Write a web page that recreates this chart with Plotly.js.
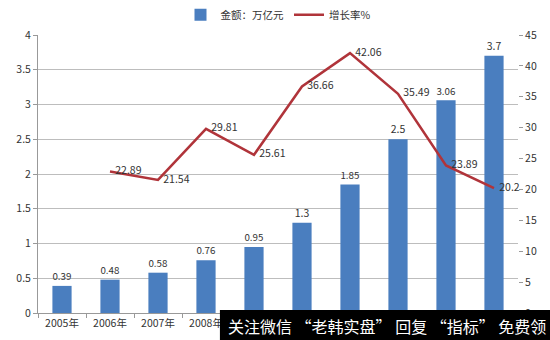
<!DOCTYPE html>
<html><head><meta charset="utf-8">
<script src="https://cdn.plot.ly/plotly-3.0.1.min.js"></script>
<style>html,body{margin:0;padding:0;background:#fff}#c{width:550px;height:340px}</style>
</head><body><div id="c"></div>
<script>
const categories = ["2005年","2006年","2007年","2008年","2009年","2010年","2011年","2012年","2013年","2014年"];
const amount = [0.39,0.48,0.58,0.76,0.95,1.3,1.85,2.5,3.06,3.7];
const growthCats = ["2006年","2007年","2008年","2009年","2010年","2011年","2012年","2013年","2014年"];
const growth = [22.89,21.54,29.81,25.61,36.66,42.06,35.49,23.89,20.2];
const amountName = "金额：万亿元";
const growthName = "增长率%";
const watermark = "关注微信 “老韩实盘” 回复 “指标” 免费领";

const font = "Noto Sans CJK SC, Noto Sans, sans-serif";
const traces = [
  {type:'bar', x:categories, y:amount, name:amountName, marker:{color:'#4A7EBF'},
   text:amount.map(String), textposition:'outside', cliponaxis:false,
   textfont:{size:10.5,color:'#333'}, hoverinfo:'skip'},
  {type:'scatter', mode:'lines+text', x:growthCats, y:growth, yaxis:'y2', name:growthName,
   line:{color:'#B0343A',width:2.5}, text:growth.map(v => '\u2002' + v), textposition:'middle right',
   textfont:{size:10.5,color:'#333'}, cliponaxis:false, hoverinfo:'skip'}
];
const layout = {
  width:550, height:340, margin:{l:38,r:32,t:35,b:27,autoexpand:false},
  paper_bgcolor:'#fff', plot_bgcolor:'#fff',
  font:{family:font, size:10.5, color:'#333'},
  bargap:0.6, showlegend:true,
  legend:{orientation:'h', x:0.5, xanchor:'center', y:1.125, yanchor:'top', font:{size:10.5}, itemwidth:30},
  xaxis:{type:'category', range:[-0.5,9.5], showgrid:false, showline:true, linecolor:'#999',
    ticks:'outside', tickson:'boundaries', ticklen:4, tickcolor:'#999', tickfont:{size:10.5}, automargin:false},
  yaxis:{range:[0,4], dtick:0.5, showgrid:true, gridcolor:'#bdbdbd', zeroline:false, automargin:false,
    showline:true, linecolor:'#999', ticks:'outside', ticklen:4, tickcolor:'#999', tickfont:{size:10.5}},
  yaxis2:{range:[0,45], dtick:5, overlaying:'y', side:'right', showgrid:false, zeroline:false, automargin:false,
    showline:false, ticks:'outside', ticklen:4, tickcolor:'#999', tickfont:{size:10.5}},
  shapes:[{type:'rect', xref:'paper', yref:'paper', x0:0.379, x1:1.07, y0:0.0108, y1:-0.1, fillcolor:'#000', line:{width:0}}],
  annotations:[{xref:'paper', yref:'paper', x:0.392, y:-0.045, xanchor:'left', yanchor:'middle',
    text:watermark, showarrow:false, font:{size:16, color:'#fff', family:font}}]
};
Plotly.newPlot('c', traces, layout, {staticPlot:true, displayModeBar:false});
</script></body></html>
